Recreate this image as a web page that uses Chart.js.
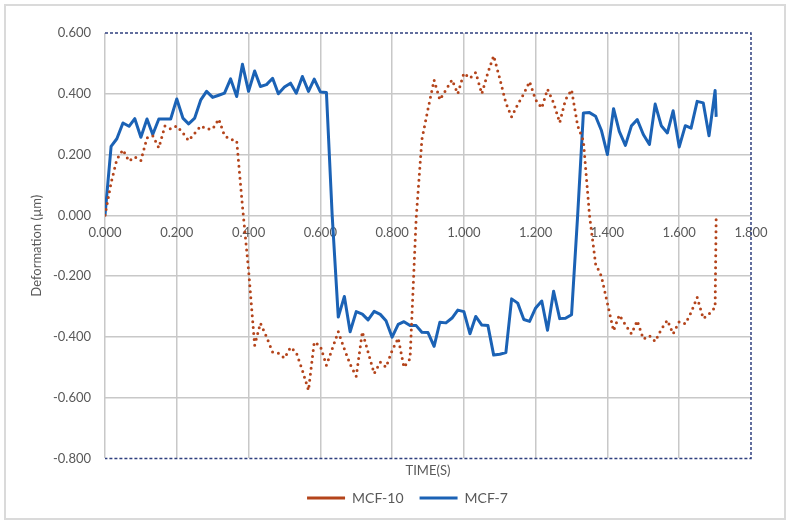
<!DOCTYPE html>
<html>
<head>
<meta charset="utf-8">
<script src="https://cdn.jsdelivr.net/npm/chart.js@4.4.1/dist/chart.umd.min.js"></script>
<style>
  html, body { margin: 0; padding: 0; background: #fff; }
  #wrap { position: relative; width: 790px; height: 526px; }
  #frame { position: absolute; left: 4px; top: 4px; width: 778px; height: 512px; border: 2px solid #dadada; pointer-events: none; }
  canvas { display: block; }
</style>
</head>
<body>
<div id="wrap">
  <canvas id="chart" width="790" height="526"></canvas>
  <div id="frame"></div>
</div>
<script>
// ===== Data =====

// time (s), one sample every ~1/60 s
const times = [
  0.000, 0.017, 0.033, 0.050, 0.067, 0.083,
  0.100, 0.117, 0.133, 0.150, 0.167, 0.183,
  0.200, 0.217, 0.233, 0.250, 0.267, 0.283,
  0.300, 0.317, 0.333, 0.350, 0.367, 0.383,
  0.400, 0.417, 0.433, 0.450, 0.467, 0.483,
  0.500, 0.517, 0.533, 0.550, 0.567, 0.583,
  0.600, 0.617, 0.633, 0.650, 0.667, 0.683,
  0.700, 0.717, 0.733, 0.750, 0.767, 0.783,
  0.800, 0.817, 0.833, 0.850, 0.867, 0.883,
  0.900, 0.917, 0.933, 0.950, 0.967, 0.983,
  1.000, 1.017, 1.033, 1.050, 1.067, 1.083,
  1.100, 1.117, 1.133, 1.150, 1.167, 1.183,
  1.200, 1.217, 1.233, 1.250, 1.267, 1.283,
  1.300, 1.317, 1.333, 1.350, 1.367, 1.383,
  1.400, 1.417, 1.433, 1.450, 1.467, 1.483,
  1.500, 1.517, 1.533, 1.550, 1.567, 1.583,
  1.600, 1.617, 1.633, 1.650, 1.667, 1.683,
  1.700, 1.703
];

// deformation (µm)
const mcf10 = [
  0.000, 0.107, 0.184, 0.216, 0.178, 0.192, 0.180, 0.255, 0.262, 0.222,
  0.294, 0.284, 0.294, 0.271, 0.246, 0.270, 0.294, 0.284, 0.284, 0.317,
  0.262, 0.250, 0.245, 0.030, -0.180, -0.428, -0.355, -0.400, -0.450, -0.454,
  -0.470, -0.434, -0.452, -0.510, -0.576, -0.417, -0.430, -0.494, -0.440, -0.383,
  -0.440, -0.490, -0.530, -0.383, -0.450, -0.521, -0.483, -0.500, -0.445, -0.404,
  -0.500, -0.472, -0.010, 0.250, 0.350, 0.445, 0.380, 0.413, 0.446, 0.400,
  0.468, 0.451, 0.470, 0.400, 0.470, 0.525, 0.450, 0.370, 0.324, 0.365,
  0.400, 0.440, 0.380, 0.353, 0.415, 0.370, 0.305, 0.380, 0.413, 0.295,
  0.245, 0.000, -0.160, -0.200, -0.290, -0.380, -0.328, -0.360, -0.390, -0.347,
  -0.407, -0.396, -0.415, -0.375, -0.345, -0.390, -0.350, -0.357, -0.320, -0.270,
  -0.340, -0.325, -0.303, 0.000
];

const mcf7 = [
  0.000, 0.227, 0.252, 0.304, 0.293, 0.318, 0.257, 0.317, 0.266, 0.317,
  0.317, 0.317, 0.383, 0.320, 0.301, 0.320, 0.380, 0.408, 0.388, 0.395,
  0.402, 0.449, 0.391, 0.497, 0.408, 0.475, 0.424, 0.430, 0.451, 0.400,
  0.422, 0.435, 0.402, 0.457, 0.408, 0.448, 0.406, 0.404, 0.000, -0.335,
  -0.267, -0.383, -0.317, -0.325, -0.344, -0.316, -0.326, -0.347, -0.401, -0.359,
  -0.350, -0.363, -0.363, -0.385, -0.386, -0.431, -0.352, -0.354, -0.338, -0.312,
  -0.317, -0.390, -0.333, -0.361, -0.363, -0.460, -0.457, -0.452, -0.275, -0.289,
  -0.343, -0.349, -0.305, -0.282, -0.378, -0.250, -0.340, -0.339, -0.327, 0.000,
  0.337, 0.338, 0.326, 0.280, 0.200, 0.351, 0.276, 0.230, 0.295, 0.315,
  0.266, 0.233, 0.366, 0.295, 0.271, 0.344, 0.225, 0.295, 0.287, 0.375,
  0.370, 0.262, 0.411, 0.324
];

// ===== Styling =====
const FONT = 'Lato, "Liberation Sans", sans-serif';
const TEXT = '#595959';
const GRID = '#c8c8c8';
const NONE = 'rgba(0,0,0,0)';

const near = (a, b) => Math.abs(a - b) < 1e-6;
const fmt = (v) => (Math.abs(v) < 1e-9 ? 0 : v).toFixed(3);

// dashed navy frame on top/right/bottom of the plot area
const plotFrame = {
  id: 'plotFrame',
  beforeDatasetsDraw(chart) {
    const { ctx, chartArea: a } = chart;
    ctx.save();
    ctx.strokeStyle = '#2f3f7f';
    ctx.lineWidth = 1.5;
    ctx.setLineDash([3, 2]);
    ctx.beginPath();
    ctx.moveTo(a.left, a.top);
    ctx.lineTo(a.right, a.top);
    ctx.lineTo(a.right, a.bottom);
    ctx.lineTo(a.left, a.bottom);
    ctx.stroke();
    ctx.restore();
  }
};

// legend sits right of the canvas centre in the original
const legendNudge = {
  id: 'legendNudge',
  afterLayout(chart) {
    if (!chart.legend) return;
    chart.legend.left += 32;
    chart.legend.right += 32;
    chart.legend.top -= 4;
    chart.legend.bottom -= 4;
  }
};

const toPoints = (values) => times.map((t, i) => ({ x: t, y: values[i] }));

const ctx = document.getElementById('chart').getContext('2d');

new Chart(ctx, {
  type: 'line',
  data: {
    datasets: [{
      label: 'MCF-10',
      data: toPoints(mcf10),
      xAxisID: 'x',
      yAxisID: 'y',
      borderColor: '#b4441b',
      borderWidth: 3,
      borderDash: [0, 6],
      borderCapStyle: 'round',
      pointRadius: 0,
      tension: 0
    }, {
      label: 'MCF-7',
      data: toPoints(mcf7),
      xAxisID: 'x',
      yAxisID: 'y',
      borderColor: '#1b62b5',
      borderWidth: 3,
      borderJoinStyle: 'round',
      pointRadius: 0,
      tension: 0
    }]
  },
  options: {
    responsive: false,
    animation: false,
    events: [],
    layout: {
      padding: { top: 33, right: 39, bottom: 7, left: 0 }
    },
    plugins: {
      tooltip: { enabled: false },
      legend: {
        position: 'bottom',
        labels: {
          usePointStyle: true,
          pointStyle: 'line',
          pointStyleWidth: 38,
          padding: 16,
          color: TEXT,
          font: { family: FONT, size: 14 }
        }
      }
    },
    scales: {
      x: {
        type: 'linear',
        position: 'bottom',
        min: 0,
        max: 1.8,
        ticks: { display: false, stepSize: 0.2 },
        grid: {
          color: (c) => (c.tick && near(c.tick.value, 1.8) ? NONE : GRID),
          lineWidth: 1.5,
          drawTicks: false
        },
        border: { display: false },
        title: {
          display: true,
          text: 'TIME(S)',
          color: TEXT,
          font: { family: FONT, size: 13 },
          padding: { top: 5, bottom: 0 }
        }
      },
      // tick labels sit along the zero line
      xLabels: {
        type: 'linear',
        axis: 'x',
        position: { y: 0 },
        min: 0,
        max: 1.8,
        ticks: {
          stepSize: 0.2,
          padding: 10,
          maxRotation: 0,
          autoSkip: false,
          color: TEXT,
          font: { family: FONT, size: 13 },
          callback: fmt
        },
        grid: { display: false, drawTicks: false },
        border: { display: false }
      },
      y: {
        type: 'linear',
        position: 'left',
        min: -0.8,
        max: 0.6,
        afterFit: (s) => { s.width = 105; },
        ticks: {
          stepSize: 0.2,
          padding: 14,
          color: TEXT,
          font: { family: FONT, size: 13 },
          callback: fmt
        },
        grid: {
          color: (c) => (c.tick && (near(c.tick.value, 0.6) || near(c.tick.value, -0.8)) ? NONE : GRID),
          lineWidth: 1.5,
          drawTicks: false
        },
        border: { display: false },
        title: {
          display: true,
          text: 'Deformation (µm)',
          color: TEXT,
          font: { family: FONT, size: 13 },
          padding: { top: 29, bottom: 0 }
        }
      }
    }
  },
  plugins: [plotFrame, legendNudge]
});
</script>
</body>
</html>
